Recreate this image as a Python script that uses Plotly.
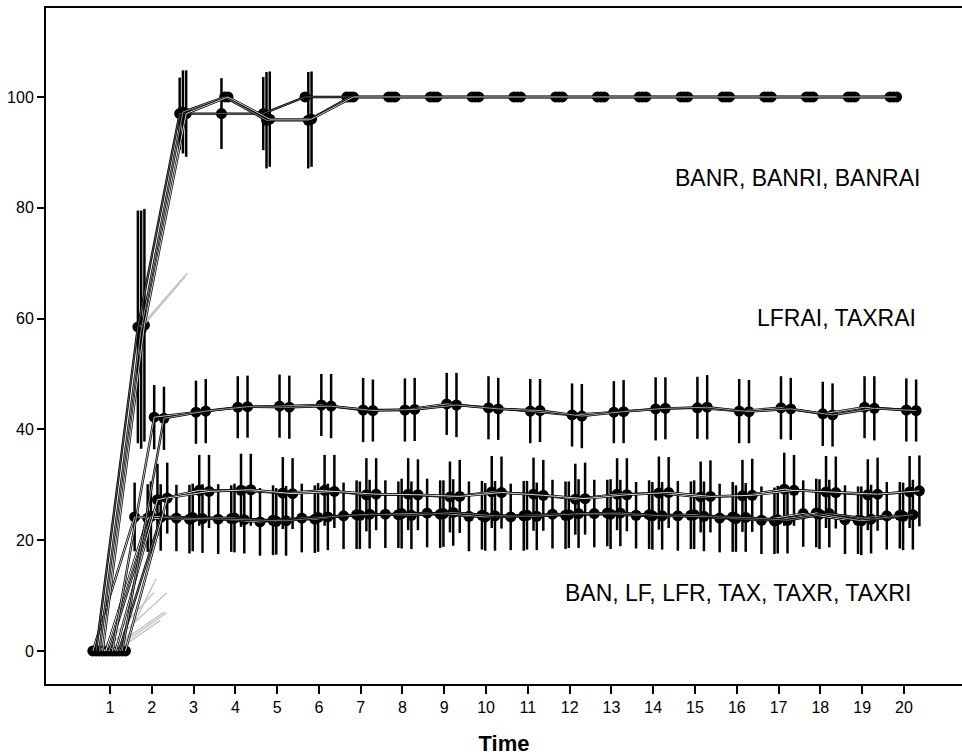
import plotly.graph_objects as go
import numpy as np

# ---------------- data ----------------
times = list(range(1, 21))
series_names = ["BAN", "BANR", "BANRAI", "BANRI", "LF", "LFR",
                "LFRAI", "TAX", "TAXR", "TAXRAI", "TAXRI"]

BAN = [0, 24.2, 24.0, 23.8, 23.3, 24.0, 24.4, 24.7, 24.9, 24.3, 24.2, 24.7, 24.8, 24.5, 24.4, 24.0, 23.6, 24.8, 23.7, 24.4]
BANR = [0, 58.5, 97.0, 97.0, 97.0, 100, 100, 100, 100, 100, 100, 100, 100, 100, 100, 100, 100, 100, 100, 100]
BANRAI = [0, 58.0, 97.3, 100, 95.8, 95.8, 100, 100, 100, 100, 100, 100, 100, 100, 100, 100, 100, 100, 100, 100]
BANRI = [0, 58.8, 97.0, 100, 96.0, 96.0, 100, 100, 100, 100, 100, 100, 100, 100, 100, 100, 100, 100, 100, 100]
LF = [0, 24.0, 23.8, 23.9, 23.6, 23.8, 24.6, 24.6, 24.7, 24.5, 24.4, 24.5, 24.9, 24.6, 24.5, 24.2, 23.5, 24.9, 23.6, 24.5]
LFR = [0, 24.3, 24.1, 24.0, 23.4, 24.1, 24.5, 24.8, 24.8, 24.2, 24.5, 24.6, 24.7, 24.4, 24.6, 23.9, 23.7, 24.7, 23.5, 24.3]
LFRAI = [0, 42.2, 43.1, 44.0, 44.2, 44.4, 43.5, 43.5, 44.6, 43.9, 43.3, 42.6, 43.1, 43.7, 43.9, 43.3, 43.9, 42.8, 44.0, 43.5]
TAX = [0, 27.3, 29.0, 29.0, 28.5, 29.0, 28.2, 28.3, 27.8, 28.7, 28.3, 27.4, 28.3, 28.5, 27.8, 28.0, 29.2, 28.7, 28.2, 28.7]
TAXR = [0, 24.1, 23.9, 23.7, 23.5, 24.2, 24.7, 24.5, 25.0, 24.4, 24.3, 24.8, 24.9, 24.4, 24.3, 24.1, 23.6, 24.8, 23.8, 24.6]
TAXRAI = [0, 42.0, 43.3, 44.1, 44.0, 44.2, 43.4, 43.6, 44.4, 43.7, 43.4, 42.4, 43.2, 43.8, 44.0, 43.2, 43.7, 42.6, 43.8, 43.4]
TAXRI = [0, 27.6, 28.8, 29.1, 28.4, 28.8, 28.3, 28.2, 27.9, 28.6, 28.1, 27.5, 28.2, 28.6, 27.9, 28.1, 29.0, 28.6, 28.3, 28.9]

# half-widths of the 95% CI error bars
BAN_err = [0, 6.2, 6.0, 6.3, 6.1, 6.2, 6.0, 6.1, 6.2, 6.3, 6.0, 6.2, 6.1, 6.0, 6.3, 6.2, 6.1, 6.0, 6.2, 6.1]
BANR_err = [0, 21.0, 6.5, 6.4, 6.6, 0, 0, 0, 0, 0, 0, 0, 0, 0, 0, 0, 0, 0, 0, 0]
BANRAI_err = [0, 21.5, 7.5, 0, 8.7, 8.7, 0, 0, 0, 0, 0, 0, 0, 0, 0, 0, 0, 0, 0, 0]
BANRI_err = [0, 21.0, 7.8, 0, 8.6, 8.6, 0, 0, 0, 0, 0, 0, 0, 0, 0, 0, 0, 0, 0, 0]
LF_err = [0, 6.1, 6.2, 6.0, 6.3, 6.1, 6.2, 6.0, 6.1, 6.2, 6.3, 6.1, 6.0, 6.2, 6.1, 6.3, 6.0, 6.2, 6.1, 6.0]
LFR_err = [0, 6.3, 6.1, 6.2, 6.0, 6.2, 6.1, 6.3, 6.0, 6.1, 6.2, 6.0, 6.3, 6.1, 6.2, 6.0, 6.1, 6.3, 6.2, 6.1]
LFRAI_err = [0, 5.8, 5.7, 5.6, 5.7, 5.6, 5.8, 5.7, 5.6, 5.7, 5.8, 5.7, 5.6, 5.7, 5.6, 5.8, 5.7, 5.8, 5.6, 5.7]
TAX_err = [0, 6.5, 6.4, 6.6, 6.5, 6.4, 6.6, 6.5, 6.4, 6.5, 6.6, 6.4, 6.5, 6.6, 6.4, 6.5, 6.6, 6.5, 6.4, 6.5]
TAXR_err = [0, 6.0, 6.2, 6.1, 6.3, 6.0, 6.2, 6.1, 6.0, 6.3, 6.1, 6.2, 6.0, 6.1, 6.3, 6.2, 6.0, 6.1, 6.2, 6.3]
TAXRAI_err = [0, 5.7, 5.8, 5.6, 5.7, 5.8, 5.6, 5.7, 5.8, 5.6, 5.7, 5.8, 5.7, 5.6, 5.8, 5.7, 5.6, 5.7, 5.8, 5.6]
TAXRI_err = [0, 6.4, 6.6, 6.5, 6.4, 6.6, 6.5, 6.4, 6.6, 6.5, 6.4, 6.5, 6.6, 6.4, 6.5, 6.6, 6.4, 6.5, 6.6, 6.4]

# faint trailing segments (start time, start value, end time, end value)
trail_t0 = [0.75, 0.85, 0.95, 1.05, 1.15, 1.25, 1.72, 1.75]
trail_v0 = [0, 0, 0, 0, 0, 0, 58.5, 58.3]
trail_t1 = [2.05, 2.36, 2.30, 2.36, 2.20, 2.10, 2.85, 2.80]
trail_v1 = [10.5, 10.5, 7.0, 6.9, 5.5, 13.0, 68.2, 67.6]

group_labels = ["BANR, BANRI, BANRAI", "LFRAI, TAXRAI", "BAN, LF, LFR, TAX, TAXR, TAXRI"]
group_label_t = [14.47, 16.43, 11.84]
group_label_v = [85.4, 60.1, 10.5]

# ---------------- styling ----------------
values = [BAN, BANR, BANRAI, BANRI, LF, LFR, LFRAI, TAX, TAXR, TAXRAI, TAXRI]
errors = [BAN_err, BANR_err, BANRAI_err, BANRI_err, LF_err, LFR_err,
          LFRAI_err, TAX_err, TAXR_err, TAXRAI_err, TAXRI_err]
core_colors = ["#c8c8c8", "#555555", "#8c8c8c", "#d0d0d0", "#ffffff", "#a0a0a0",
               "#c0c0c0", "#e0e0e0", "#707070", "#9a9a9a", "#d8d8d8"]
dodge_step = 0.078
dodge_shift = -0.02

fig = go.Figure()
t = np.array(times, dtype=float)

# markers with error bars
for i, (name, v, e) in enumerate(zip(series_names, values, errors)):
    x = t + dodge_shift + (i - 5) * dodge_step
    fig.add_trace(go.Scatter(
        x=x, y=v, mode="markers", name=name, showlegend=False,
        marker=dict(color="black", size=11, symbol="circle"),
        error_y=dict(type="data", array=e, visible=True, color="black",
                     thickness=2.5, width=0),
    ))

# trailing faint segments
for a, b, c, d in zip(trail_t0, trail_v0, trail_t1, trail_v1):
    fig.add_trace(go.Scatter(x=[a, c], y=[b, d], mode="lines", showlegend=False,
                             line=dict(color="#c4c4c4", width=1.5), hoverinfo="skip"))

# lines: black outline + coloured core
for i, (name, v) in enumerate(zip(series_names, values)):
    x = t + dodge_shift + (i - 5) * dodge_step
    fig.add_trace(go.Scatter(x=x, y=v, mode="lines", showlegend=False,
                             line=dict(color="black", width=2.4), hoverinfo="skip"))
    fig.add_trace(go.Scatter(x=x, y=v, mode="lines", showlegend=False,
                             line=dict(color=core_colors[i], width=1.0), hoverinfo="skip"))

for lab, lt, lv in zip(group_labels, group_label_t, group_label_v):
    fig.add_annotation(x=lt, y=lv, text=lab, showarrow=False, xanchor="left",
                       yanchor="middle", font=dict(size=23, color="black",
                                                   family="Liberation Sans, Arial"))

fig.update_layout(
    width=962, height=756,
    margin=dict(l=46, r=0, t=8, b=72),
    paper_bgcolor="white", plot_bgcolor="white",
    font=dict(family="Liberation Sans, Arial", color="black", size=16),
    showlegend=False,
)
fig.update_xaxes(
    range=[-0.531, 21.39], tickmode="array", tickvals=times,
    ticktext=[str(v) for v in times],
    showline=True, linecolor="black", linewidth=2, mirror=True,
    ticks="outside", ticklen=8, tickwidth=2, tickcolor="black",
    showgrid=False, zeroline=False,
    tickfont=dict(size=16),
    title=dict(text="<b>Time</b>", font=dict(size=22), standoff=21),
)
fig.update_yaxes(
    range=[-5.96, 116.06], tickmode="array", tickvals=[0, 20, 40, 60, 80, 100],
    showline=True, linecolor="black", linewidth=2,
    ticks="outside", ticklen=7, tickwidth=2, tickcolor="black",
    showgrid=False, zeroline=False, tickfont=dict(size=16),
)

fig.write_html(
    "out.html",
    config={"displayModeBar": False},
    post_script="document.body.style.margin='0';document.body.style.overflow='hidden';",
)
